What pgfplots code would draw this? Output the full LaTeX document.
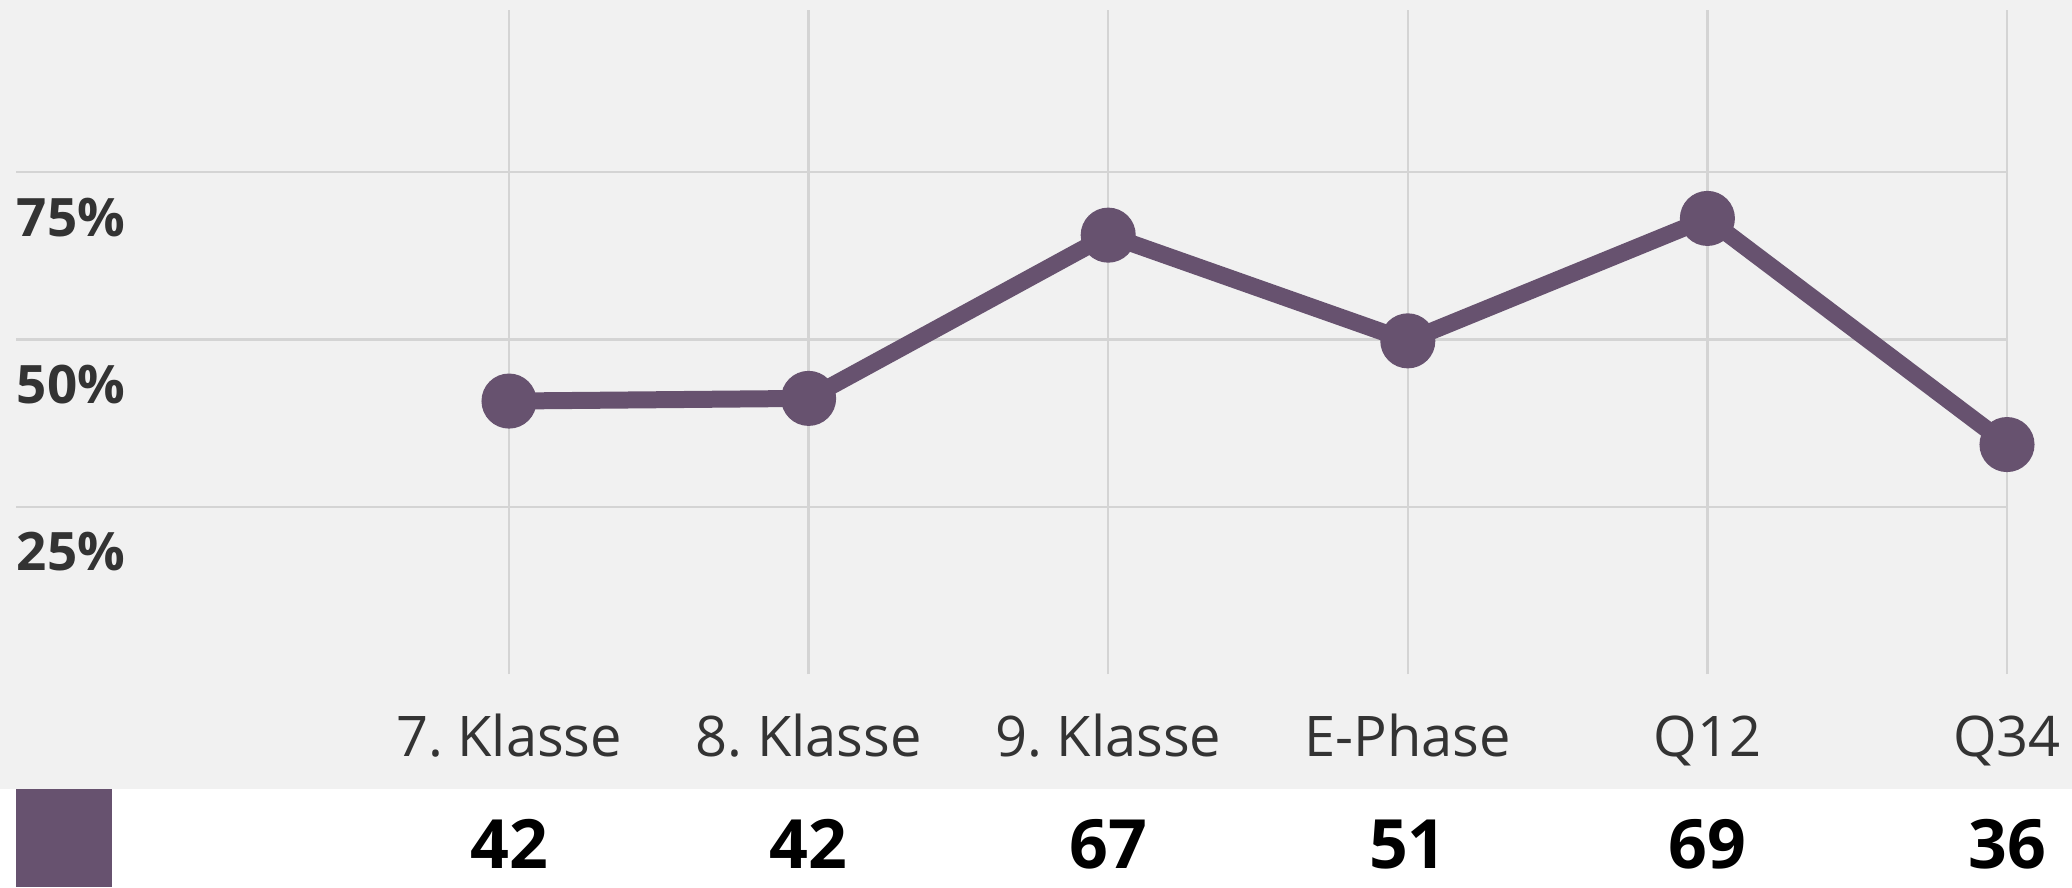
\documentclass[border=0pt]{standalone}
\usepackage{fontspec}
\setmainfont{Open Sans}
\usepackage{pgfplots}
\pgfplotsset{compat=1.18}
\definecolor{bgc}{HTML}{F1F1F1}
\definecolor{gridc}{HTML}{D4D4D4}
\definecolor{linec}{HTML}{67526F}
\definecolor{txt}{HTML}{333333}
\begin{document}
\frenchspacing
\begin{tikzpicture}
\begin{axis}[
  set layers,
  scale only axis, width=497.75pt, height=166.1pt,
  xmin=-1.645, xmax=5, ymin=0, ymax=99.3,
  axis line style={draw=none},
  xtick={0,...,5}, xticklabels={7. Klasse,8. Klasse,9. Klasse,E-Phase,Q12,Q34},
  ytick={25,50,75}, yticklabels={25\%,50\%,75\%},
  major tick length=0pt,
  grid=major, major grid style={gridc, line width=0.6pt},
  xticklabel style={anchor=base, yshift=-20.5pt, inner sep=0pt, font=\frenchspacing\fontsize{14}{16}\selectfont, text=txt},
  yticklabel style={anchor=base west, yshift=-16pt, inner sep=0pt, font=\fontsize{13.25}{15}\selectfont\bfseries, text=txt},
  clip=false,
]
\begin{pgfonlayer}{axis background}
\fill[white] (axis cs:-1.699,-31.84) rectangle (axis cs:5.217,100.75);
\fill[bgc] (axis cs:-1.699,-17.19) rectangle (axis cs:5.217,100.75);
\fill[linec] (axis cs:-1.6455,-31.84) rectangle (axis cs:-1.3251,-17.19);
\end{pgfonlayer}
\addplot[linec, line width=4.25pt, mark=*, mark size=4.75pt, mark options={solid, fill=linec, draw=none}]
  coordinates {(0,40.8)(1,41.2)(2,65.6)(3,49.8)(4,68.1)(5,34.3)};
\node[anchor=base, inner sep=0pt, yshift=-48.5pt, font=\fontsize{17}{20}\selectfont\bfseries] at (axis cs:0,0) {42};
\node[anchor=base, inner sep=0pt, yshift=-48.5pt, font=\fontsize{17}{20}\selectfont\bfseries] at (axis cs:1,0) {42};
\node[anchor=base, inner sep=0pt, yshift=-48.5pt, font=\fontsize{17}{20}\selectfont\bfseries] at (axis cs:2,0) {67};
\node[anchor=base, inner sep=0pt, yshift=-48.5pt, font=\fontsize{17}{20}\selectfont\bfseries] at (axis cs:3,0) {51};
\node[anchor=base, inner sep=0pt, yshift=-48.5pt, font=\fontsize{17}{20}\selectfont\bfseries] at (axis cs:4,0) {69};
\node[anchor=base, inner sep=0pt, yshift=-48.5pt, font=\fontsize{17}{20}\selectfont\bfseries] at (axis cs:5,0) {36};
\end{axis}
\end{tikzpicture}
\end{document}
